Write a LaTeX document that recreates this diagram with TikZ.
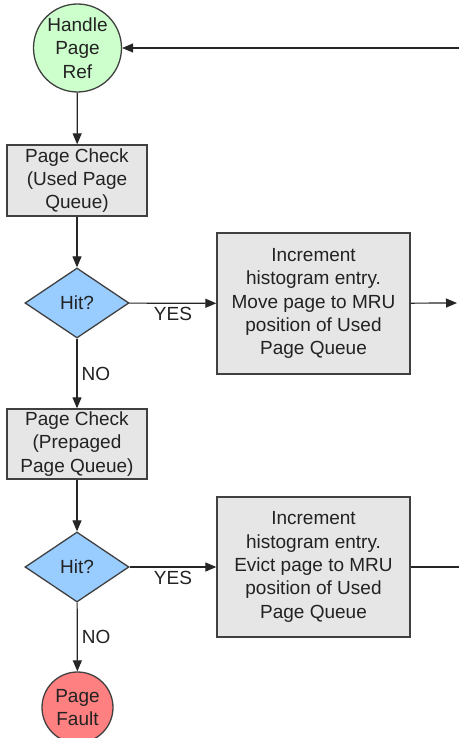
\documentclass[tikz,border=0pt]{standalone}
\usepackage{fontspec}
\setmainfont{Liberation Sans}
\usetikzlibrary{shapes.geometric,arrows.meta}
\definecolor{startgreen}{HTML}{CCFFCC}
\definecolor{faultred}{HTML}{FF8080}
\definecolor{boxgray}{HTML}{E6E6E6}
\definecolor{decblue}{HTML}{99CCFF}
\definecolor{edgegray}{HTML}{404040}
\definecolor{txt}{HTML}{222222}
\tikzset{
  base/.style={draw=edgegray, line width=1.3pt, text=txt, align=center, inner sep=0pt,
    font=\fontsize{19}{23.3}\selectfont},
  term/.style={base, circle},
  procbox/.style={base, rectangle, fill=boxgray},
  decision/.style={base, diamond, fill=decblue, aspect=1.486, minimum width=104pt, minimum height=70pt},
  conn/.style={draw=black!85, line width=1.2pt},
  arr/.style={conn, -{Triangle[length=11pt,width=9pt]}},
  lbl/.style={text=txt, inner sep=0pt, font=\fontsize{19}{23.3}\selectfont}
}
\begin{document}
\begin{tikzpicture}[x=1pt,y=-1pt]
\useasboundingbox (0,0) rectangle (459,738);
\fill[white] (0,0) rectangle (459,738);
\begin{scope}
\clip (0,0) rectangle (459,738);
\node[term, fill=startgreen, minimum size=88pt] (start) at (77.5,48) {Handle\\Page\\Ref};
\node[procbox, minimum width=140pt, minimum height=71pt] (check1) at (77,180.5) {Page Check\\(Used Page\\Queue)};
\node[decision] (hit1) at (77,303) {Hit?};
\node[procbox, minimum width=193pt, minimum height=141pt] (inc1) at (313.5,303.5) {Increment\\histogram entry.\\Move page to MRU\\position of Used\\Page Queue};
\node[procbox, minimum width=140pt, minimum height=70pt] (check2) at (77,444) {Page Check\\(Prepaged\\Page Queue)};
\node[decision] (hit2) at (77,567) {Hit?};
\node[procbox, minimum width=193pt, minimum height=140pt] (inc2) at (313.5,567) {Increment\\histogram entry.\\Evict page to MRU\\position of Used\\Page Queue};
\node[term, fill=faultred, minimum size=71pt] (fault) at (77.5,707.5) {Page\\Fault};
\coordinate (retin) at (459,48);
\coordinate (out1) at (457,303);
\coordinate (out2) at (459,567);
\draw[arr] (retin) -- (start);
\draw[arr] (start) -- (check1);
\draw[arr] (check1) -- (hit1);
\draw[arr] (hit1) -- node[lbl, pos=0.5, yshift=-11pt] (yes1) {YES} (inc1);
\draw[arr] (inc1) -- (out1);
\draw[arr] (hit1) -- node[lbl, anchor=west, xshift=4pt, pos=0.5] (no1) {NO} (check2);
\draw[arr] (check2) -- (hit2);
\draw[arr] (hit2) -- node[lbl, pos=0.5, yshift=-11pt] (yes2) {YES} (inc2);
\draw[conn] (inc2) -- (out2);
\draw[arr] (hit2) -- node[lbl, anchor=west, xshift=4pt, pos=0.5] (no2) {NO} (fault);
\end{scope}
\end{tikzpicture}
\end{document}
